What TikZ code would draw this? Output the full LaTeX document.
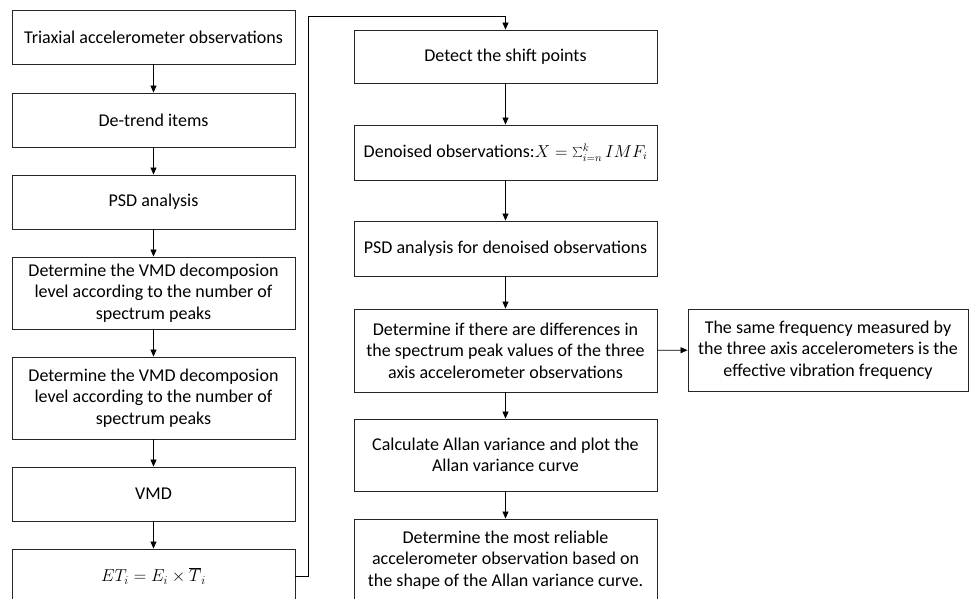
\documentclass[tikz,border=0pt]{standalone}
\usepackage{fontspec}
\setmainfont{Carlito}
\usetikzlibrary{arrows.meta}

\begin{document}
\begin{tikzpicture}[x=1pt, y=-1pt,
  box/.style={draw=black!85, line width=0.9pt, align=center, inner sep=2pt,
    font=\fontsize{18}{21.5}\selectfont},
  lbox/.style={box, minimum width=283pt},
  rbox/.style={box, minimum width=303pt},
  flow/.style={-{Triangle[length=7pt,width=6pt]}, line width=0.8pt}]
\clip (0,0) rectangle (969,599);
\node[lbox, minimum height=54pt] (tri) at (153.5,37) {Triaxial accelerometer observations};
\node[lbox, minimum height=54pt] (detrend) at (153.5,120) {De-trend items};
\node[lbox, minimum height=54pt] (psd) at (153.5,202) {PSD analysis};
\node[lbox, minimum height=72pt] (levela) at (153.5,293) {Determine the VMD decomposion\\level according to the number of\\spectrum peaks};
\node[lbox, minimum height=82pt] (levelb) at (153.5,398) {Determine the VMD decomposion\\level according to the number of\\spectrum peaks};
\node[lbox, minimum height=54pt] (vmd) at (153.5,494) {VMD};
\node[lbox, minimum height=54pt] (et) at (153.5,576) {$ET_i = E_i \times \overline{T}_i$};
\node[rbox, minimum height=53pt] (shift) at (505.5,56.5) {Detect the shift points};
\node[rbox, minimum height=55pt] (denoise) at (505.5,152.5) {Denoised observations:{\fontsize{16}{20}\selectfont$X = \sum\nolimits_{i=n}^{k} IMF_i$}};
\node[rbox, minimum height=55pt] (psdd) at (505.5,248.5) {PSD analysis for denoised observations};
\node[rbox, minimum height=83pt] (diff) at (505.5,350.5) {Determine if there are differences in\\the spectrum peak values of the three\\axis accelerometer observations};
\node[box, minimum width=280pt, minimum height=82pt] (same) at (828,350) {The same frequency measured by\\the three axis accelerometers is the\\effective vibration frequency};
\node[rbox, minimum height=72pt] (allan) at (505.5,455) {Calculate Allan variance and plot the\\Allan variance curve};
\node[rbox, minimum height=82pt] (reliable) at (505.5,560) {Determine the most reliable\\accelerometer observation based on\\the shape of the Allan variance curve.};
\coordinate (turn) at (308,16);
\draw[flow] (tri) -- (detrend);
\draw[flow] (detrend) -- (psd);
\draw[flow] (psd) -- (levela);
\draw[flow] (levela) -- (levelb);
\draw[flow] (levelb) -- (vmd);
\draw[flow] (vmd) -- (et);
\draw[flow] (et.east) -| (turn) -| (shift.north);
\draw[flow] (shift) -- (denoise);
\draw[flow] (denoise) -- (psdd);
\draw[flow] (psdd) -- (diff);
\draw[flow] (diff) -- (same);
\draw[flow] (diff) -- (allan);
\draw[flow] (allan) -- (reliable);
\end{tikzpicture}
\end{document}
